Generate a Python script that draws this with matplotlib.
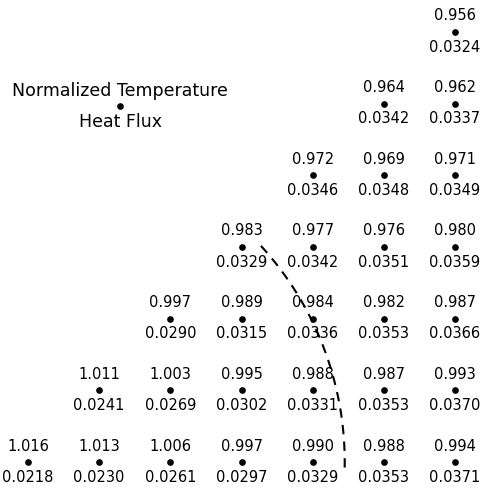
import numpy as np
import matplotlib.pyplot as plt

# grid values, one list per row from the bottom row upwards
# row r starts at column r (lower-right triangle)
temp_rows = [
    [1.016, 1.013, 1.006, 0.997, 0.990, 0.988, 0.994],
    [1.011, 1.003, 0.995, 0.988, 0.987, 0.993],
    [0.997, 0.989, 0.984, 0.982, 0.987],
    [0.983, 0.977, 0.976, 0.980],
    [0.972, 0.969, 0.971],
    [0.964, 0.962],
    [0.956],
]
flux_rows = [
    [0.0218, 0.0230, 0.0261, 0.0297, 0.0329, 0.0353, 0.0371],
    [0.0241, 0.0269, 0.0302, 0.0331, 0.0353, 0.0370],
    [0.0290, 0.0315, 0.0336, 0.0353, 0.0366],
    [0.0329, 0.0342, 0.0351, 0.0359],
    [0.0346, 0.0348, 0.0349],
    [0.0342, 0.0337],
    [0.0324],
]

# dashed boundary: circular arc around the corner point
arc_radius = 4.45
arc_angles = (-1.0, 43.5)

fig = plt.figure(figsize=(4.86, 4.90), dpi=100)
ax = fig.add_axes([0, 0, 1, 1])
ax.set_xlim(-0.393, 6.435)
ax.set_ylim(-0.391, 6.446)
ax.axis("off")

fs = 10.5
for r, (temps, fluxes) in enumerate(zip(temp_rows, flux_rows)):
    for k, (t, q) in enumerate(zip(temps, fluxes)):
        c = r + k
        ax.plot(c, r, "o", color="black", markersize=3.8)
        ax.annotate(f"{t:.3f}", (c, r), xytext=(0, 11.5), textcoords="offset points",
                    ha="center", va="center", fontsize=fs)
        ax.annotate(f"{q:.4f}", (c, r), xytext=(0, -11), textcoords="offset points",
                    ha="center", va="center", fontsize=fs)

# legend-like key
key = (1.293, 4.967)
ax.plot(*key, "o", color="black", markersize=3.8)
ax.annotate("Normalized Temperature", key, xytext=(0, 10.5), textcoords="offset points",
            ha="center", va="center", fontsize=12.5)
ax.annotate("Heat Flux", key, xytext=(0, -11.5), textcoords="offset points",
            ha="center", va="center", fontsize=12.5)

th = np.radians(np.linspace(arc_angles[0], arc_angles[1], 100))
ax.plot(arc_radius * np.cos(th), arc_radius * np.sin(th), color="black",
        linewidth=1.5, linestyle=(0, (4.5, 3.5)))

fig.savefig("out.png", dpi=100)
